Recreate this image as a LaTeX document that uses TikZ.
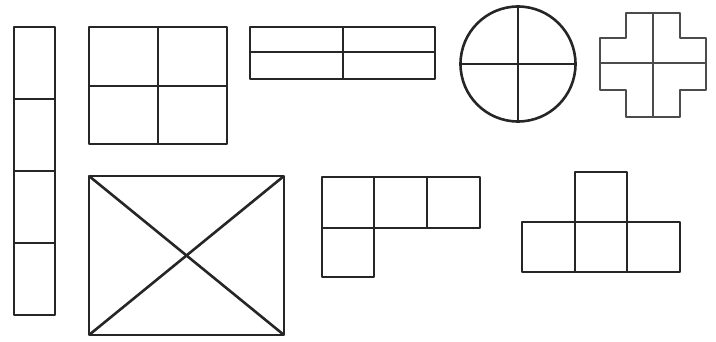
\documentclass[tikz,border=0pt]{standalone}
\usepackage{tikz}
\usetikzlibrary{calc}
\tikzset{
  tile/.style={draw=black!85, line width=2.6pt, line join=round},
  thintile/.style={draw=black!70, line width=1.8pt, line join=round}
}
\begin{document}
\begin{tikzpicture}[x=1pt, y=-1pt]
\useasboundingbox (0,0) rectangle (716,342);
% ---- tall column of four cells ----
\draw[tile] (14,27) rectangle (55,315);
\foreach \y in {99,171,243}{\draw[tile] (14,\y) -- (55,\y);}
% ---- 2x2 grid ----
\draw[tile] (89,27) rectangle (227,144);
\draw[tile] (158,27) -- (158,144);
\draw[tile] (89,86) -- (227,86);
% ---- flat bar, split both ways ----
\draw[tile] (250,27) rectangle (435,79);
\draw[tile] (343,27) -- (343,79);
\draw[tile] (250,52) -- (435,52);
% ---- circle with cross ----
\coordinate (c) at (518,64);
\draw[tile] (c) circle (57.5);
\draw[tile] ($(c)+(-57.5,0)$) -- ($(c)+(57.5,0)$);
\draw[tile] ($(c)+(0,-57.5)$) -- ($(c)+(0,57.5)$);
% ---- plus shape ----
\draw[thintile] (626,13) -- (680,13) -- (680,38) -- (706,38) -- (706,90) -- (680,90)
  -- (680,117) -- (626,117) -- (626,90) -- (600,90) -- (600,38) -- (626,38) -- cycle;
\draw[thintile] (653,13) -- (653,117);
\draw[thintile] (600,63) -- (706,63);
% ---- box with diagonals ----
\draw[tile] (89,176) rectangle (284,335);
\draw[tile] (89,176) -- (284,335);
\draw[tile] (284,176) -- (89,335);
% ---- L shape ----
\draw[tile] (322,177) rectangle (480,228);
\foreach \x in {374,427}{\draw[tile] (\x,177) -- (\x,228);}
\draw[tile] (322,228) rectangle (374,277);
% ---- T shape ----
\draw[tile] (522,222) rectangle (680,272);
\foreach \x in {575,627}{\draw[tile] (\x,222) -- (\x,272);}
\draw[tile] (575,172) rectangle (627,222);
\end{tikzpicture}
\end{document}
